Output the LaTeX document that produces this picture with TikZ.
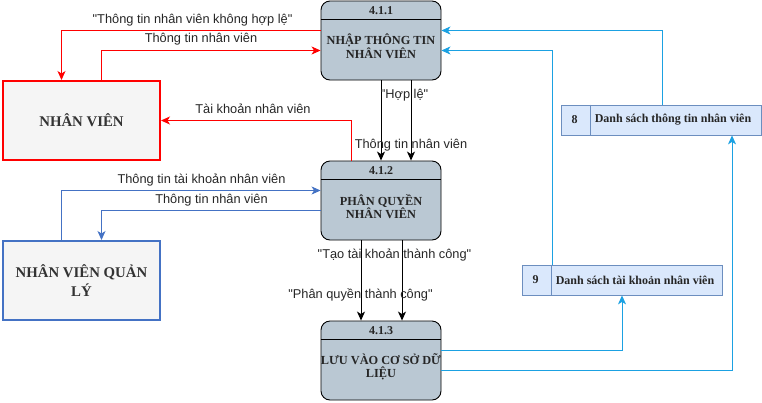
\documentclass[tikz,border=0pt]{standalone}
\usepackage{fontspec}
\setmainfont{Liberation Serif}
\newfontfamily\lsans{Liberation Sans}
\usetikzlibrary{arrows.meta}
\definecolor{procfill}{HTML}{BAC8D3}
\definecolor{entfill}{HTML}{F5F5F5}
\definecolor{enttext}{HTML}{333333}
\definecolor{bluel}{HTML}{4472C4}
\definecolor{cyanl}{HTML}{1BA1E2}
\definecolor{stfill}{HTML}{DAE8FC}
\definecolor{stline}{HTML}{6C8EBF}
\tikzset{
  proc/.style={draw=black, fill=procfill, rounded corners=9pt, minimum width=120pt, minimum height=79pt, line width=0.9pt, inner sep=0pt},
  ptitle/.style={font=\bfseries\fontsize{12}{13}\selectfont, text=black!85, inner sep=0pt},
  ptext/.style={font=\bfseries\fontsize{12.3}{13}\selectfont, text=black!85, align=center, inner sep=0pt},
  entred/.style={draw=red, fill=entfill, line width=2pt, minimum width=157pt, minimum height=79pt, inner sep=0pt, font=\bfseries\fontsize{14.8}{19}\selectfont, text=enttext, align=center},
  entblue/.style={draw=bluel, fill=entfill, line width=2pt, minimum width=157pt, minimum height=79pt, inner sep=0pt, font=\bfseries\fontsize{14.8}{19}\selectfont, text=enttext, align=center},
  store/.style={draw=stline, fill=stfill, line width=0.8pt, minimum width=200pt, minimum height=30pt, inner sep=0pt},
  stnum/.style={font=\bfseries\fontsize{12}{13}\selectfont, text=black!85, inner sep=0pt},
  sttext/.style={font=\bfseries\fontsize{12}{13}\selectfont, text=black!85, inner sep=0pt, anchor=west},
  lbl/.style={font=\lsans\fontsize{12.8}{14}\selectfont, text=black!85, inner sep=0pt},
  tip/.style={-{Stealth[length=9pt,width=8pt,inset=2.5pt]}},
  redarr/.style={draw=red, line width=0.9pt, tip},
  blkarr/.style={draw=black, line width=0.9pt, tip},
  bluearr/.style={draw=bluel, line width=0.9pt, tip},
  cyanarr/.style={draw=cyanl, line width=0.9pt, tip}
}
\begin{document}
\begin{tikzpicture}[x=1pt,y=-1pt]
\useasboundingbox (0,0) rectangle (762,402);

% processes
\node[proc] (p1) at (381,40.5) {};
\draw[line width=0.9pt] ([yshift=-19pt]p1.north west) -- ([yshift=-19pt]p1.north east);
\node[ptitle] (p1t) at ([yshift=-10pt]p1.north) {4.1.1};
\node[ptext] (p1b) at ([yshift=-6pt]p1.center) {NHẬP THÔNG TIN\\NHÂN VIÊN};

\node[proc] (p2) at (381,200.5) {};
\draw[line width=0.9pt] ([yshift=-19pt]p2.north west) -- ([yshift=-19pt]p2.north east);
\node[ptitle] (p2t) at ([yshift=-10pt]p2.north) {4.1.2};
\node[ptext] (p2b) at ([yshift=-6pt]p2.center) {PHÂN QUYỀN\\NHÂN VIÊN};

\node[proc] (p3) at (381,360.5) {};
\draw[line width=0.9pt] ([yshift=-19pt]p3.north west) -- ([yshift=-19pt]p3.north east);
\node[ptitle] (p3t) at ([yshift=-10pt]p3.north) {4.1.3};
\node[ptext] (p3b) at ([yshift=-6pt]p3.center) {LƯU VÀO CƠ SỞ DỮ\\LIỆU};

% entities
\node[entred] (nv) at (81.5,120.5) {NHÂN VIÊN};
\node[entblue] (nvql) at (81.5,280.5) {NHÂN VIÊN QUẢN\\LÝ};

% stores
\node[store] (s8) at (661,120) {};
\draw[draw=stline, line width=0.8pt] ([xshift=30pt]s8.north west) -- ([xshift=30pt]s8.south west);
\node[stnum] (s8n) at ([xshift=14pt]s8.west) {8};
\node[sttext] (s8t) at ([xshift=34pt]s8.west) {Danh sách thông tin nhân viên};

\node[store] (s9) at (622,280) {};
\draw[draw=stline, line width=0.8pt] ([xshift=30pt]s9.north west) -- ([xshift=30pt]s9.south west);
\node[stnum] (s9n) at ([xshift=14pt]s9.west) {9};
\node[sttext] (s9t) at ([xshift=34pt]s9.west) {Danh sách tài khoản nhân viên};

% red flows
\draw[redarr] ([yshift=10pt]p1.west) -| ([xshift=-20pt]nv.north);
\draw[redarr] ([xshift=20pt]nv.north) |- ([yshift=-10pt]p1.west);
\draw[redarr] ([xshift=-30pt]p2.north) |- (nv.east);
\node[lbl] (l1) at (192.5,20) {"Thông tin nhân viên không hợp lệ"};
\node[lbl] (l2) at (201,39.5) {Thông tin nhân viên};
\node[lbl] (l3) at (253,109) {Tài khoản nhân viên};

% black flows
\draw[blkarr] (p1.south) -- (p2.north);
\draw[blkarr] ([xshift=30pt]p1.south) -- ([xshift=30pt]p2.north);
\draw[blkarr] ([xshift=-20pt]p2.south) -- ([xshift=-20pt]p3.north);
\draw[blkarr] ([xshift=21pt]p2.south) -- ([xshift=21pt]p3.north);
\node[lbl] (l4) at (404.5,95.5) {"Hợp lệ"};
\node[lbl] (l5) at (411,145) {Thông tin nhân viên};
\node[lbl] (l6) at (394.5,255) {"Tạo tài khoản thành công"};
\node[lbl] (l7) at (360.5,295) {"Phân quyền thành công"};

% blue flows
\draw[bluearr] ([xshift=-20pt]nvql.north) |- ([yshift=10pt]p2.west);
\draw[bluearr] ([yshift=-10pt]p2.west) -| ([xshift=20pt]nvql.north);
\node[lbl] (l8) at (201.5,180) {Thông tin tài khoản nhân viên};
\node[lbl] (l9) at (211.5,200) {Thông tin nhân viên};

% cyan flows
\draw[cyanarr] ([yshift=10pt]p3.east) -| (s9.south);
\draw[cyanarr] ([yshift=-10pt]p3.east) -| ([xshift=71pt]s8.south);
\draw[cyanarr] ([xshift=1pt]s8.north) |- ([yshift=10pt]p1.east);
\draw[cyanarr] ([xshift=-70pt]s9.north) |- ([yshift=-10pt]p1.east);
\end{tikzpicture}
\end{document}
